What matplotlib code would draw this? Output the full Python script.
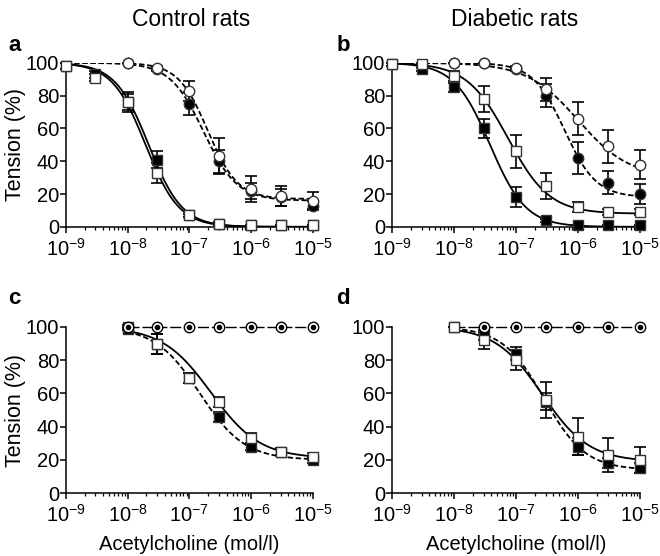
import numpy as np
import matplotlib
matplotlib.use("Agg")
import matplotlib.pyplot as plt

plt.rcParams['font.family'] = ['Liberation Sans', 'DejaVu Sans']
plt.rcParams['mathtext.fontset'] = 'custom'
plt.rcParams['mathtext.rm'] = 'Liberation Sans'
plt.rcParams['mathtext.it'] = 'Liberation Sans'

# acetylcholine concentrations (mol/l)
conc_full = [1e-9, 3e-9, 1e-8, 3e-8, 1e-7, 3e-7, 1e-6, 3e-6, 1e-5]
conc_hi = [1e-8, 3e-8, 1e-7, 3e-7, 1e-6, 3e-6, 1e-5]
conc_d_circ = [3e-8, 1e-7, 3e-7, 1e-6, 3e-6, 1e-5]

# panel a - control rats
a_fsq = [98, 93, 76, 41, 7, 2, 1, 1, 1]
a_fsq_err = [2, 2, 5, 5, 1, 1, 0, 0, 0]
a_osq = [98, 91, 76, 33, 7, 2, 1, 1, 1]
a_osq_err = [2, 2, 6, 6, 1, 1, 0, 0, 0]
a_fci = [100, 96, 75, 40, 22, 18, 13]
a_fci_err = [0, 1, 7, 7, 5, 5, 3]
a_oci = [100, 97, 83, 43, 23, 19, 16]
a_oci_err = [0, 1, 6, 11, 8, 6, 5]

# panel b - diabetic rats
b_fsq = [99, 96, 85, 60, 18, 4, 1, 1, 1]
b_fsq_err = [1, 1, 3, 6, 6, 1, 0, 0, 0]
b_osq = [99, 99, 92, 78, 46, 25, 12, 9, 9]
b_osq_err = [1, 1, 3, 8, 10, 8, 3, 2, 2]
b_fci = [100, 100, 96, 80, 42, 27, 20]
b_fci_err = [0, 0, 1, 7, 10, 7, 6]
b_oci = [100, 100, 97, 84, 66, 49, 38]
b_oci_err = [0, 0, 1, 7, 10, 10, 9]

# panel c - control rats
c_fsq = [99, 90, 69, 46, 28, 25, 20]
c_fsq_err = [1, 6, 3, 3, 2, 2, 2]
c_osq = [100, 90, 69, 55, 33, 25, 22]
c_osq_err = [1, 6, 3, 3, 3, 2, 2]
c_ci = [100, 100, 100, 100, 100, 100, 100]

# panel d - diabetic rats
d_fsq = [100, 95, 84, 55, 28, 18, 15]
d_fsq_err = [0, 3, 4, 5, 5, 3, 3]
d_osq = [100, 92, 80, 56, 34, 23, 20]
d_osq_err = [0, 5, 6, 11, 11, 10, 8]
d_ci = [100, 100, 100, 100, 100, 100]

# sigmoid fit parameters: bottom, logEC50, hill slope
fits = {
    'a_fsq': (0, -7.66, 1.6), 'a_osq': (0, -7.71, 1.6),
    'a_fci': (16, -6.77, 1.6), 'a_oci': (17, -6.70, 1.8),
    'b_fsq': (0, -7.42, 1.5), 'b_osq': (8, -7.13, 1.3),
    'b_fci': (18, -6.22, 1.7), 'b_oci': (30, -6.00, 1.05),
    'c_fsq': (20, -6.83, 1.2), 'c_osq': (21, -6.65, 1.1),
    'd_fsq': (14, -6.55, 1.3), 'd_osq': (19, -6.58, 1.15),
}

DASH = (0, (3, 1.5))


def hill(x, bottom, logec50, h):
    return bottom + (100 - bottom) / (1 + 10 ** ((np.log10(x) - logec50) * h))


def curve(ax, key, x0, ls):
    xx = np.logspace(np.log10(x0), -5, 300)
    ax.plot(xx, hill(xx, *fits[key]), color='black', lw=1.3, ls=ls, zorder=2)


def points(ax, x, y, err, filled, marker):
    ax.errorbar(x, y, yerr=err, fmt='none', ecolor='black', elinewidth=1.2,
                capsize=4, capthick=1.2, zorder=3, clip_on=False)
    ax.plot(x, y, ls='none', marker=marker, ms=7.5, mec='#333333', mew=1.0,
            mfc='black' if filled else 'white', zorder=4, clip_on=False)


def style(ax, xlabel=False):
    ax.set_xscale('log')
    ax.set_xlim(1e-9, 1e-5)
    ax.set_ylim(0, 100)
    ax.set_yticks([0, 20, 40, 60, 80, 100])
    ax.set_xticks([1e-9, 1e-8, 1e-7, 1e-6, 1e-5])
    ax.set_xticklabels([r'10$^{-9}$', r'10$^{-8}$', r'10$^{-7}$', r'10$^{-6}$', r'10$^{-5}$'])
    for s in ['top', 'right']:
        ax.spines[s].set_visible(False)
    for s in ['left', 'bottom']:
        ax.spines[s].set_linewidth(1.1)
    ax.tick_params(which='major', length=4, width=1.1, labelsize=14.5)
    ax.tick_params(axis='x', which='major', pad=4)
    ax.tick_params(axis='y', which='major', pad=1)
    ax.tick_params(which='minor', length=2.5, width=0.9)
    ax.tick_params(axis='y', which='minor', left=False)
    if xlabel:
        ax.set_xlabel('Acetylcholine (mol/l)', fontsize=14.5, labelpad=6)


fig = plt.figure(figsize=(6.6, 5.56), dpi=100)
axa = fig.add_axes([0.1, 0.592, 0.374, 0.295])
axb = fig.add_axes([0.594, 0.592, 0.376, 0.295])
axc = fig.add_axes([0.1, 0.113, 0.374, 0.299])
axd = fig.add_axes([0.594, 0.113, 0.376, 0.299])

# a
curve(axa, 'a_fci', 1e-9, DASH)
curve(axa, 'a_oci', 1e-9, DASH)
curve(axa, 'a_fsq', 1e-9, '-')
curve(axa, 'a_osq', 1e-9, '-')
points(axa, conc_full, a_fsq, a_fsq_err, True, 's')
points(axa, conc_full, a_osq, a_osq_err, False, 's')
points(axa, conc_hi, a_fci, a_fci_err, True, 'o')
points(axa, conc_hi, a_oci, a_oci_err, False, 'o')

# b
curve(axb, 'b_fci', 1e-9, DASH)
curve(axb, 'b_oci', 1e-9, DASH)
curve(axb, 'b_fsq', 1e-9, '-')
curve(axb, 'b_osq', 1e-9, '-')
points(axb, conc_full, b_fsq, b_fsq_err, True, 's')
points(axb, conc_full, b_osq, b_osq_err, False, 's')
points(axb, conc_hi, b_fci, b_fci_err, True, 'o')
points(axb, conc_hi, b_oci, b_oci_err, False, 'o')

# c
axc.plot(conc_hi, c_ci, color='black', lw=1.0, ls=(0, (8, 2)), zorder=2, clip_on=False)
curve(axc, 'c_fsq', 1e-8, DASH)
curve(axc, 'c_osq', 1e-8, '-')
points(axc, conc_hi, c_fsq, c_fsq_err, True, 's')
points(axc, conc_hi, c_osq, c_osq_err, False, 's')
axc.plot(conc_hi, c_ci, ls='none', marker='o', ms=7.5, mfc='white', mec='black', mew=1.0, zorder=5, clip_on=False)
axc.plot(conc_hi, c_ci, ls='none', marker='o', ms=3, mfc='black', mec='black', zorder=6, clip_on=False)

# d
axd.plot([1e-8] + conc_d_circ, [100] + d_ci, color='black', lw=1.0, ls=(0, (8, 2)), zorder=2, clip_on=False)
curve(axd, 'd_fsq', 1e-8, DASH)
curve(axd, 'd_osq', 1e-8, '-')
points(axd, conc_hi, d_fsq, d_fsq_err, True, 's')
points(axd, conc_hi, d_osq, d_osq_err, False, 's')
axd.plot(conc_d_circ, d_ci, ls='none', marker='o', ms=7.5, mfc='white', mec='black', mew=1.0, zorder=5, clip_on=False)
axd.plot(conc_d_circ, d_ci, ls='none', marker='o', ms=3, mfc='black', mec='black', zorder=6, clip_on=False)

style(axa)
style(axb)
style(axc, xlabel=True)
style(axd, xlabel=True)
axa.set_ylabel('Tension (%)', fontsize=15.5, labelpad=0)
axc.set_ylabel('Tension (%)', fontsize=15.5, labelpad=0)

fig.text(0.29, 0.965, 'Control rats', fontsize=16.5, ha='center', va='center')
fig.text(0.78, 0.965, 'Diabetic rats', fontsize=16.5, ha='center', va='center')
for lbl, x, y in [('a', 0.012, 0.918), ('b', 0.51, 0.918), ('c', 0.012, 0.463), ('d', 0.51, 0.463)]:
    fig.text(x, y, lbl, fontsize=16, fontweight='bold', ha='left', va='center')

fig.savefig('out.png', dpi=100)
